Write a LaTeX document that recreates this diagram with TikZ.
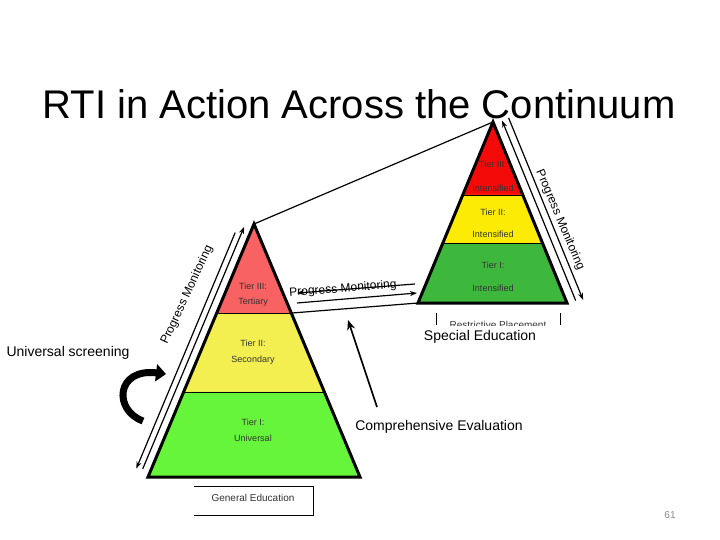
\documentclass[tikz,border=0pt]{standalone}
\usepackage{fontspec}
\setmainfont{Liberation Sans}
\usetikzlibrary{arrows.meta,calc}
\definecolor{lred}{HTML}{F86262}
\definecolor{lyel}{HTML}{F4EF50}
\definecolor{lgrn}{HTML}{66F53A}
\definecolor{rred}{HTML}{F50A0A}
\definecolor{ryel}{HTML}{FCEB05}
\definecolor{rgrn}{HTML}{3DB83D}
\definecolor{pnum}{HTML}{8A8A8A}
\definecolor{tiertxt}{HTML}{333333}
\begin{document}
\begin{tikzpicture}[x=1pt,y=-1pt,
  pyr/.style={draw=black,line width=3pt,line join=miter},
  tierline/.style={draw=black,line width=0.8pt},
  tiertext/.style={font=\fontsize{9}{10}\selectfont,text=tiertxt,inner sep=0pt},
  biglabel/.style={font=\fontsize{14}{16}\selectfont,inner sep=0pt},
  pmtext/.style={font=\fontsize{12}{14}\selectfont,inner sep=0pt},
  conn/.style={line width=1.2pt},
  tip/.style={-{Stealth[length=7pt,width=5pt]}},
]
\useasboundingbox (0,0) rectangle (720,540);
\fill[white] (0,0) rectangle (720,540);

% title
\node[font=\fontsize{40}{44}\selectfont,anchor=base,inner sep=0pt] (title) at (359,119) {RTI in Action Across the Continuum};

% ---------- left pyramid ----------
\coordinate (LA) at (254,224);
\coordinate (LBL) at (148,477);
\coordinate (LBR) at (360,477);
\coordinate (L1l) at ($(LA)!0.352!(LBL)$);
\coordinate (L1r) at ($(LA)!0.352!(LBR)$);
\coordinate (L2l) at ($(LA)!0.664!(LBL)$);
\coordinate (L2r) at ($(LA)!0.664!(LBR)$);
\fill[lred] (LA) -- (L1l) -- (L1r) -- cycle;
\fill[lyel] (L1l) -- (L2l) -- (L2r) -- (L1r) -- cycle;
\fill[lgrn] (L2l) -- (LBL) -- (LBR) -- (L2r) -- cycle;
\draw[tierline] (L1l) -- (L1r) (L2l) -- (L2r);
\draw[pyr] (LA) -- (LBL) -- (LBR) -- cycle;
\node[tiertext] (lt3a) at (253,286) {Tier III:};
\node[tiertext] (lt3b) at (253,302) {Tertiary};
\node[tiertext] (lt2a) at (253,343) {Tier II:};
\node[tiertext] (lt2b) at (253,360) {Secondary};
\node[tiertext] (lt1a) at (253,422) {Tier I:};
\node[tiertext] (lt1b) at (253,438) {Universal};

% ---------- right pyramid ----------
\coordinate (RA) at (493,122);
\coordinate (RBL) at (418,303);
\coordinate (RBR) at (567,303);
\coordinate (R1l) at ($(RA)!0.403!(RBL)$);
\coordinate (R1r) at ($(RA)!0.403!(RBR)$);
\coordinate (R2l) at ($(RA)!0.669!(RBL)$);
\coordinate (R2r) at ($(RA)!0.669!(RBR)$);
\fill[rred] (RA) -- (R1l) -- (R1r) -- cycle;
\fill[ryel] (R1l) -- (R2l) -- (R2r) -- (R1r) -- cycle;
\fill[rgrn] (R2l) -- (RBL) -- (RBR) -- (R2r) -- cycle;
\draw[tierline] (R1l) -- (R1r) (R2l) -- (R2r);
\draw[pyr] (RA) -- (RBL) -- (RBR) -- cycle;
\node[tiertext] (rt3a) at (493,164) {Tier III:};
\node[tiertext] (rt3b) at (493,188) {Intensified};
\node[tiertext] (rt2a) at (493,212) {Tier II:};
\node[tiertext] (rt2b) at (493,234) {Intensified};
\node[tiertext] (rt1a) at (493,265) {Tier I:};
\node[tiertext] (rt1b) at (493,288) {Intensified};

% connecting lines between pyramids
\draw[conn] (LA) -- (RA);
\draw[conn] (L1r) -- (RBL);

% progress monitoring arrows (middle)
\coordinate (pm1a) at (415,284);
\coordinate (pm1b) at (297,293);
\coordinate (pm2a) at (297,303);
\coordinate (pm2b) at (417,293);
\draw[conn,tip] (pm1a) -- (pm1b);
\draw[conn,tip] (pm2a) -- (pm2b);
\node[pmtext,rotate=4.5] (pmmid) at (343,289) {Progress Monitoring};

% left side progress monitoring arrows
\coordinate (li1) at (142.7,468.9);
\coordinate (li2) at (244.1,226.9);
\coordinate (lo1) at (235.2,232.6);
\coordinate (lo2) at (136.3,468.6);
\draw[conn,tip] (li1) -- (li2);
\draw[conn,tip] (lo1) -- (lo2);
\node[pmtext,rotate=65] (pml) at (187,295) {Progress Monitoring};

% right side progress monitoring arrows
\coordinate (ri1) at (575.7,300.6);
\coordinate (ri2) at (502.1,120.6);
\coordinate (ro1) at (508.6,117.9);
\coordinate (ro2) at (583.1,299.9);
\draw[conn,tip] (ri1) -- (ri2);
\draw[conn,tip] (ro1) -- (ro2);
\node[pmtext,rotate=-67] (pmr) at (560,220) {Progress Monitoring};

% General Education box
\coordinate (ge1) at (194,486);
\coordinate (ge2) at (313,486);
\coordinate (ge3) at (313,515);
\coordinate (ge4) at (194,515);
\draw[line width=0.8pt] (ge1) -- (ge2) -- (ge3) -- (ge4);
\node[font=\fontsize{10}{12}\selectfont,inner sep=0pt,text=tiertxt] (gened) at (253,498) {General Education};

% Restrictive placement (clipped)
\coordinate (rp1a) at (436,313);
\coordinate (rp1b) at (436,325);
\coordinate (rp2a) at (560,313);
\coordinate (rp2b) at (560,325);
\draw[line width=1pt] (rp1a) -- (rp1b) (rp2a) -- (rp2b);
\begin{scope}
  \clip (440,310) rectangle (556,325.5);
  \node[font=\fontsize{10}{12}\selectfont,anchor=base,inner sep=0pt,text=tiertxt] (restr) at (498,328.5) {Restrictive Placement};
\end{scope}

% labels
\node[biglabel] (sped) at (480,337) {Special Education};
\node[biglabel] (ce) at (439,427) {Comprehensive Evaluation};
\node[biglabel] (us) at (68,353) {Universal screening};

% comprehensive evaluation arrow
\coordinate (ceA) at (377,407);
\coordinate (ceB) at (348,320);
\draw[line width=1.6pt,-{Stealth[length=10pt,width=8pt]}] (ceA) -- (ceB);

% universal screening curved arrow
\coordinate (us1) at (143,421);
\coordinate (us2) at (166,374);
\draw[line width=7pt,-{Triangle[length=10pt,width=17pt]}] (us1) .. controls (113,410) and (116,368) .. (us2);

% page number
\node[font=\fontsize{10}{12}\selectfont,text=pnum,inner sep=0pt] (pg) at (670,515) {61};
\end{tikzpicture}
\end{document}
